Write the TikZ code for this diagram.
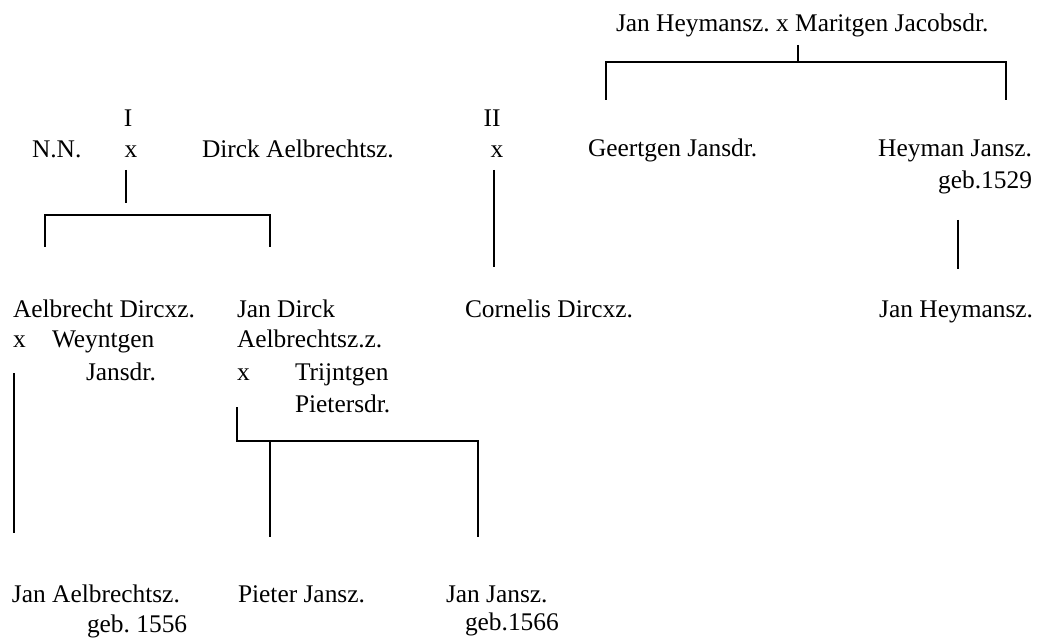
\documentclass[tikz,border=0pt]{standalone}
\usepackage{fontspec}
\setmainfont{Liberation Serif}
\begin{document}
\frenchspacing
\begin{tikzpicture}[x=1pt,y=-1pt,
  lbl/.style={inner sep=0pt,outer sep=0pt,anchor=base west,font=\fontsize{25.4}{31}\selectfont\frenchspacing},
  lblr/.style={lbl,anchor=base east},
  lblc/.style={lbl,anchor=base},
  link/.style={line width=1.8pt,line cap=butt}]
\useasboundingbox (0,0) rectangle (1037,639);
% texts
\node[lbl] (top) at (616,32) {Jan Heymansz. x Maritgen Jacobsdr.};
\node[lblc] (one) at (128,127) {I};
\node[lblc] (two) at (492,127) {II};
\node[lbl] (nn) at (32,158) {N.N.};
\node[lblc] (x1) at (131,158) {x};
\node[lbl] (dirck) at (202,158) {Dirck Aelbrechtsz.};
\node[lblc] (x2) at (497,158) {x};
\node[lbl] (geert) at (588,157) {Geertgen Jansdr.};
\node[lblr] (heyman) at (1032,157) {Heyman Jansz.};
\node[lblr] (geb29) at (1032,189) {geb.1529};
\node[lbl] (corn) at (465,317) {Cornelis Dircxz.};
\node[lblr] (janhey) at (1033,317) {Jan Heymansz.};
\node[lbl] (aelb) at (13,317) {Aelbrecht Dircxz.};
\node[lbl] (x3) at (13,348) {x};
\node[lbl] (weyn) at (52,348) {Weyntgen};
\node[lbl] (jansdr) at (86,380) {Jansdr.};
\node[lbl] (jandirck) at (237,317) {Jan Dirck};
\node[lbl] (aelbz) at (237,348) {Aelbrechtsz.z.};
\node[lbl] (x4) at (237,380) {x};
\node[lbl] (trijn) at (295,380) {Trijntgen};
\node[lbl] (pieters) at (295,412) {Pietersdr.};
\node[lbl] (janael) at (12,602) {Jan Aelbrechtsz.};
\node[lbl] (geb56) at (87,632) {geb. 1556};
\node[lbl] (pieter) at (238,602) {Pieter Jansz.};
\node[lbl] (janjan) at (446,602) {Jan Jansz.};
\node[lbl] (geb66) at (465,630) {geb.1566};
% connector points
\coordinate (ta) at (798,45);
\coordinate (tb) at (798,62);
\coordinate (tl) at (606,62);
\coordinate (tld) at (606,100);
\coordinate (tr) at (1006,62);
\coordinate (trd) at (1006,100);
\coordinate (ia) at (126,170);
\coordinate (ib) at (126,203);
\coordinate (il) at (45,215);
\coordinate (ild) at (45,247);
\coordinate (ir) at (270,215);
\coordinate (ird) at (270,247);
\coordinate (iia) at (494,170);
\coordinate (iib) at (494,267);
\coordinate (ha) at (958,220);
\coordinate (hb) at (958,269);
\coordinate (aa) at (14,373);
\coordinate (ab) at (14,533);
\coordinate (ja) at (237,407);
\coordinate (jb) at (237,441);
\coordinate (jr) at (478,441);
\coordinate (jrd) at (478,537);
\coordinate (jp) at (270,441);
\coordinate (jpd) at (270,537);
% connectors
\draw[link] (ta) -- (tb);
\draw[link] (tld) -- (tl) -- (tr) -- (trd);
\draw[link] (ia) -- (ib);
\draw[link] (ild) -- (il) -- (ir) -- (ird);
\draw[link] (iia) -- (iib);
\draw[link] (ha) -- (hb);
\draw[link] (aa) -- (ab);
\draw[link] (ja) -- (jb) -- (jr) -- (jrd);
\draw[link] (jp) -- (jpd);
\end{tikzpicture}
\end{document}
